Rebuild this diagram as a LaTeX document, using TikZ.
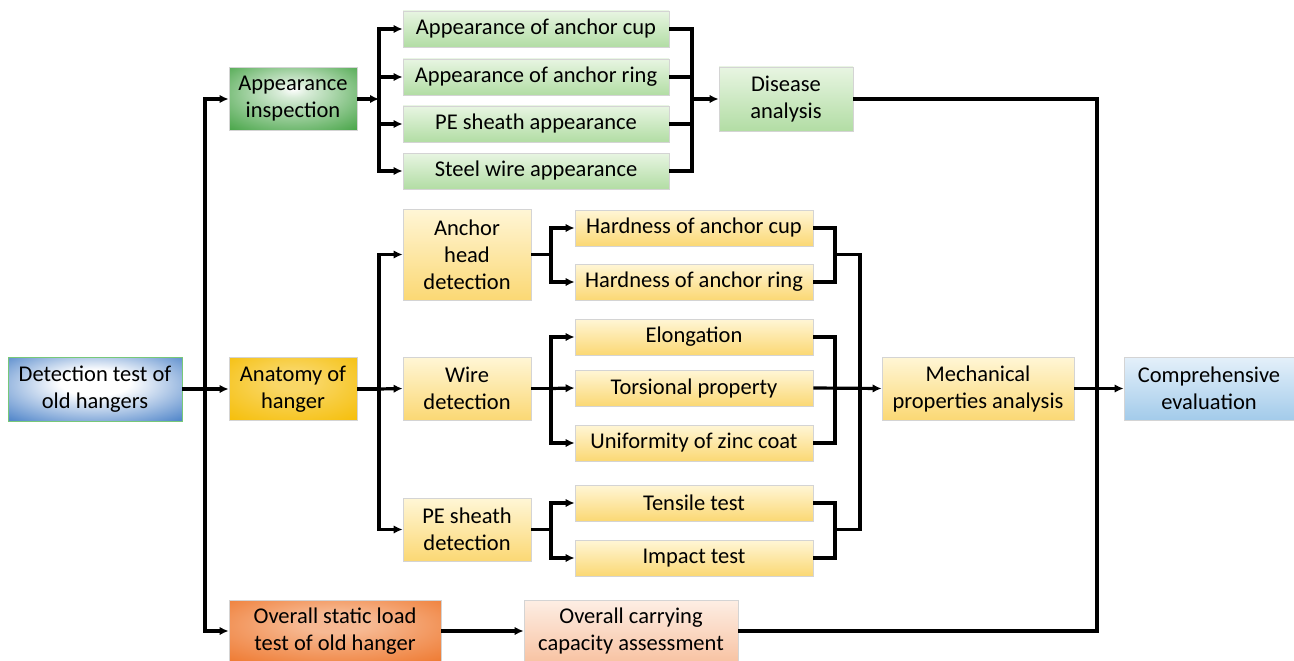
\documentclass[tikz,border=0pt]{standalone}
\usepackage{fontspec}
\setmainfont{Carlito}
\usetikzlibrary{arrows.meta}
\definecolor{lgT}{HTML}{E8F5E2}
\definecolor{lgB}{HTML}{B2DDA4}
\definecolor{lyT}{HTML}{FFF6D6}
\definecolor{lyB}{HTML}{FBD874}
\definecolor{lbT}{HTML}{E4F0FA}
\definecolor{lbB}{HTML}{A3CBEA}
\definecolor{lpT}{HTML}{FDEEE4}
\definecolor{lpB}{HTML}{F8C3A3}
\definecolor{dgreen}{HTML}{3A9E3A}
\definecolor{dblue}{HTML}{2A6BBE}
\definecolor{dgold}{HTML}{F5BC00}
\definecolor{dorange}{HTML}{EE7428}
\definecolor{edge}{HTML}{D4D4D4}
\pgfdeclareradialshading{glowblue}{\pgfpoint{0bp}{6bp}}{color(0bp)=(white); color(10bp)=(white); color(42bp)=(dblue); color(55bp)=(dblue!85!black)}
\pgfdeclareradialshading{glowgreen}{\pgfpoint{0bp}{8bp}}{color(0bp)=(white); color(6bp)=(white!80!dgreen); color(40bp)=(dgreen); color(55bp)=(dgreen!85!black)}
\pgfdeclareradialshading{glowgold}{\pgfpoint{0bp}{8bp}}{color(0bp)=(white!40!dgold); color(8bp)=(white!40!dgold); color(40bp)=(dgold); color(55bp)=(dgold)}
\pgfdeclareradialshading{gloworange}{\pgfpoint{0bp}{8bp}}{color(0bp)=(white!50!dorange); color(8bp)=(white!50!dorange); color(40bp)=(dorange); color(55bp)=(dorange)}
\tikzset{
  base/.style={draw=edge, line width=0.8pt, align=center, inner sep=0pt,
    font=\fontsize{22.5}{27}\selectfont, text=black},
  gbox/.style={base, top color=lgT, bottom color=lgB, minimum width=266pt, minimum height=36pt},
  ybox/.style={base, top color=lyT, bottom color=lyB, minimum width=238pt, minimum height=36pt},
  yboxB/.style={base, top color=lyT, bottom color=lyB, minimum width=128pt},
  glow/.style={base, minimum width=128pt, minimum height=63pt},
  ln/.style={line width=3.2pt, line join=miter},
  arr/.style={ln, -{Latex[length=9pt,width=8.5pt]}},
}
\begin{document}
\begin{tikzpicture}[x=1pt,y=-1pt]
\useasboundingbox (0,0) rectangle (1294,661);
% nodes
\node[glow, shading=glowblue, draw={rgb,255:red,120;green,200;blue,120}, minimum width=174pt, minimum height=64pt] (det) at (95,389) {Detection test of\\old hangers};
\node[glow, shading=glowgreen] (app) at (293,99) {Appearance\\inspection};
\node[glow, shading=glowgold] (ana) at (293,389) {Anatomy of\\hanger};
\node[glow, shading=gloworange, minimum width=212pt, minimum height=62pt] (ost) at (335,631) {Overall static load\\test of old hanger};
\node[base, top color=lpT, bottom color=lpB, minimum width=214pt, minimum height=62pt] (occ) at (631,631) {Overall carrying\\capacity assessment};

\node[gbox] (g1) at (536,29) {Appearance of anchor cup};
\node[gbox] (g2) at (536,77) {Appearance of anchor ring};
\node[gbox] (g3) at (536,124) {PE sheath appearance};
\node[gbox] (g4) at (536,171) {Steel wire appearance};
\node[base, top color=lgT, bottom color=lgB, minimum width=134pt, minimum height=64pt] (dis) at (786,99) {Disease\\analysis};

\node[yboxB, minimum height=91pt] (ahd) at (467,254.5) {Anchor\\head\\detection};
\node[yboxB, minimum height=63pt] (wd) at (467,388.5) {Wire\\detection};
\node[yboxB, minimum height=63pt] (pd) at (467,529.5) {PE sheath\\detection};

\node[ybox] (h1) at (694,228) {Hardness of anchor cup};
\node[ybox] (h2) at (694,282) {Hardness of anchor ring};
\node[ybox] (w1) at (694,337) {Elongation};
\node[ybox] (w2) at (694,388) {Torsional property};
\node[ybox] (w3) at (694,443) {Uniformity of zinc coat};
\node[ybox] (p1) at (694,503) {Tensile test};
\node[ybox] (p2) at (694,558) {Impact test};

\node[base, top color=lyT, bottom color=lyB, minimum width=192pt, minimum height=63pt] (mech) at (978,388.5) {Mechanical\\properties analysis};
\node[base, top color=lbT, bottom color=lbB, minimum width=170pt, minimum height=63pt] (comp) at (1209,388.5) {Comprehensive\\evaluation};

% bus coordinates
\coordinate (b1) at (205,389);
\coordinate (b2) at (379,99);
\coordinate (b3) at (692,99);
\coordinate (b4) at (1097,388.5);
\coordinate (b5) at (379,389);
\coordinate (s1) at (551,254.5);
\coordinate (s2) at (551,388.5);
\coordinate (s3) at (551,529.5);
\coordinate (m1) at (835,254.5);
\coordinate (m2) at (835,388.5);
\coordinate (m3) at (835,529.5);
\coordinate (bm) at (860,388.5);

% left trunk
\draw[arr] (det.east) -- (ana.west);
\draw[arr] (b1) |- (app.west);
\draw[arr] (b1) |- (ost.west);

% appearance branch
\draw[arr] (app.east) -- (b2);
\foreach \n in {g1,g2,g3,g4} \draw[arr] (b2) |- (\n.west);
\foreach \n in {g1,g2,g3,g4} \draw[ln] (\n.east) -| (b3);
\draw[arr] (b3) -- (dis.west);
\draw[ln] (dis.east) -| (b4);

% anatomy branch
\draw[ln] (ana.east) -- (b5);
\draw[arr] (b5) |- (ahd.west);
\draw[arr] (b5) -- (wd.west);
\draw[arr] (b5) |- (pd.west);

\draw[ln] (ahd.east) -- (s1);
\draw[arr] (s1) |- (h1.west);
\draw[arr] (s1) |- (h2.west);
\draw[ln] (wd.east) -- (s2);
\draw[arr] (s2) |- (w1.west);
\draw[arr] (s2) -- (w2.west);
\draw[arr] (s2) |- (w3.west);
\draw[ln] (pd.east) -- (s3);
\draw[arr] (s3) |- (p1.west);
\draw[arr] (s3) |- (p2.west);

\foreach \n in {h1,h2} \draw[ln] (\n.east) -| (m1);
\foreach \n in {w1,w3} \draw[ln] (\n.east) -| (m2);
\foreach \n in {p1,p2} \draw[ln] (\n.east) -| (m3);
\draw[ln] (m1) -| (bm);
\draw[ln] (m3) -| (bm);
\draw[arr] (w2.east) -- (mech.west);

% right
\draw[arr] (mech.east) -- (comp.west);
\draw[ln] (occ.east) -| (b4);
\draw[arr] (ost.east) -- (occ.west);
\end{tikzpicture}
\end{document}
